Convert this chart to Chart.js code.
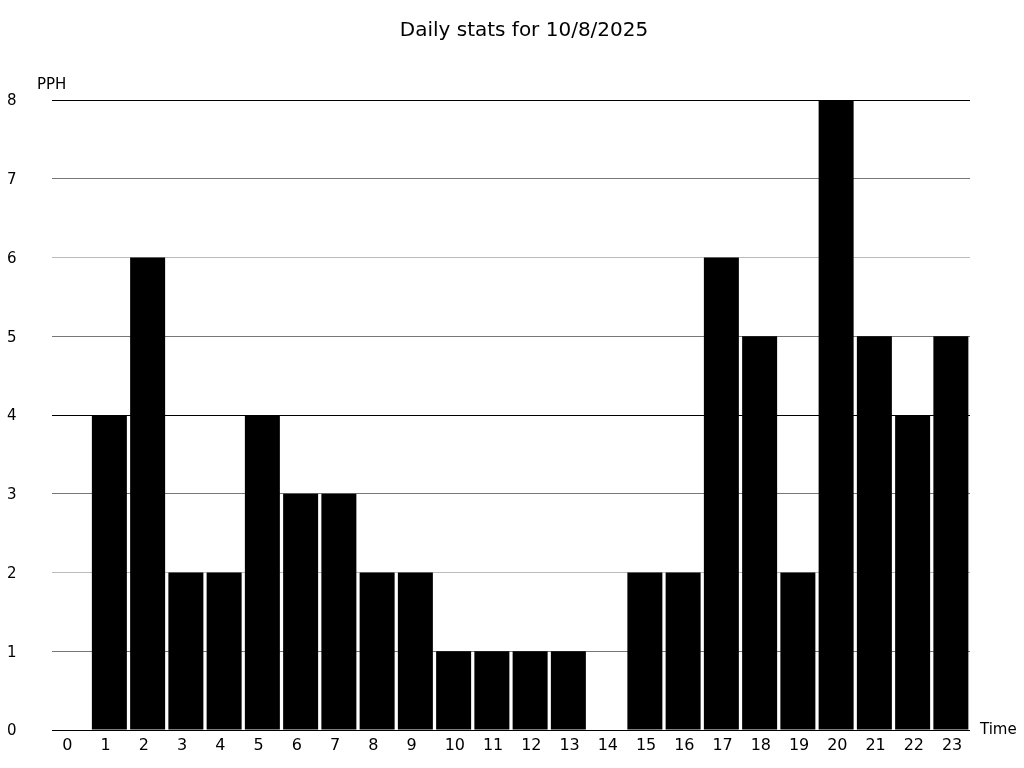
<!DOCTYPE html>
<html>
<head>
<meta charset="utf-8">
<script src="https://cdn.jsdelivr.net/npm/chart.js@4"></script>
<style>
  html, body { margin: 0; padding: 0; background: #fff; }
  #wrap { width: 1024px; height: 768px; }
</style>
</head>
<body>
<div id="wrap"><canvas id="chart"></canvas></div>
<script>
// Data
const hours = ["0", "1", "2", "3", "4", "5", "6", "7", "8", "9", "10", "11",
               "12", "13", "14", "15", "16", "17", "18", "19", "20", "21", "22", "23"];
const pph = [0, 4, 6, 2, 2, 4, 3, 3, 2, 2, 1, 1, 1, 1, 0, 2, 2, 6, 5, 2, 8, 5, 4, 5];
const chartTitle = "Daily stats for 10/8/2025";
const yLabel = "PPH";
const xLabel = "Time";

const FONT = "'DejaVu Sans', sans-serif";

// Draws the title and the two axis captions
const captions = {
    id: "captions",
    afterDraw(chart) {
        const ctx = chart.ctx;
        const area = chart.chartArea;
        ctx.save();
        ctx.fillStyle = "#000";
        ctx.textBaseline = "middle";
        ctx.font = "20px " + FONT;
        ctx.textAlign = "center";
        ctx.fillText(chartTitle, 524, 31);
        ctx.font = "15px " + FONT;
        ctx.textAlign = "left";
        ctx.fillText(yLabel, area.left - 15, area.top - 15);
        ctx.fillText(xLabel, area.right + 10, area.bottom);
        ctx.restore();
    }
};

new Chart(document.getElementById("chart").getContext("2d"), {
    type: "bar",
    data: {
        labels: hours,
        datasets: [{
            label: yLabel,
            data: pph,
            backgroundColor: "#000",
            borderWidth: 0,
            barPercentage: 0.915,
            categoryPercentage: 1.0
        }]
    },
    options: {
        responsive: true,
        maintainAspectRatio: false,
        animation: false,
        layout: {
            padding: { left: 7, right: 54, top: 100, bottom: 0 }
        },
        plugins: {
            legend: { display: false },
            title: { display: false },
            tooltip: { enabled: false }
        },
        scales: {
            x: {
                grid: { display: false, drawTicks: false },
                border: { display: false },
                ticks: {
                    color: "#000",
                    font: { family: FONT, size: 16 },
                    padding: 6,
                    align: "start",
                    labelOffset: -9,
                    maxRotation: 0,
                    autoSkip: false
                },
                afterFit(scale) { scale.height = 38; }
            },
            y: {
                min: 0,
                max: 8,
                grid: {
                    drawTicks: false,
                    lineWidth: 1,
                    color: (c) => {
                        const v = c.tick ? c.tick.value : 0;
                        if (v % 4 === 0) return "#000";
                        if (v % 2 === 0) return "#bbb";
                        return "#777";
                    }
                },
                border: { display: false },
                ticks: {
                    stepSize: 1,
                    color: "#000",
                    crossAlign: "far",
                    labelOffset: 1.5,
                    font: { family: FONT, size: 15 }
                },
                afterFit(scale) { scale.width = 45; }
            }
        }
    },
    plugins: [captions]
});
</script>
</body>
</html>
